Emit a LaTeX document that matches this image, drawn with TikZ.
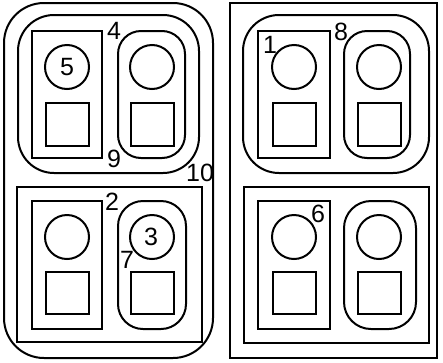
\documentclass[tikz,border=0pt]{standalone}
\usepackage{fontspec}
\setmainfont{Liberation Sans}
\begin{document}
\begin{tikzpicture}[x=1pt,y=-1pt,line width=2pt,
  lbl/.style={font=\fontsize{25}{25}\selectfont,inner sep=0pt}]
\useasboundingbox (0,0) rectangle (443,362);
% left half
\draw[rounded corners=40] (4,3) rectangle (213,358);
\draw[rounded corners=36] (18,15) rectangle (199,173);
\draw (32,31) rectangle (102,158);
\draw (67,67) circle (22);
\draw (46,103) rectangle (89,146);
\draw[rounded corners=23] (118,31) rectangle (185,158);
\draw (152,67) circle (22);
\draw (131,103) rectangle (174,146);
\draw (17,187) rectangle (202,342);
\draw (32,201) rectangle (102,329);
\draw (67,237) circle (22);
\draw (46,272) rectangle (89,314);
\draw[rounded corners=25] (118,201) rectangle (186,329);
\draw (152,237) circle (22);
\draw (131,272) rectangle (174,314);
% right half
\draw (230,3) rectangle (437,358);
\draw[rounded corners=36] (243,15) rectangle (429,173);
\draw (258,31) rectangle (330,158);
\draw (294,67) circle (22);
\draw (273,103) rectangle (316,146);
\draw[rounded corners=23] (344,31) rectangle (410,158);
\draw (379,67) circle (22);
\draw (358,103) rectangle (401,146);
\draw (244,187) rectangle (429,343);
\draw (258,201) rectangle (330,329);
\draw (294,237) circle (22);
\draw (273,272) rectangle (316,314);
\draw[rounded corners=27] (344,201) rectangle (416,329);
\draw (379,237) circle (22);
\draw (358,272) rectangle (401,314);
% labels
\node[lbl] (l4) at (114,31) {4};
\node[lbl] (l9) at (114,159) {9};
\node[lbl] (l10) at (200,173) {10};
\node[lbl] (l5) at (67,67) {5};
\node[lbl] (l2) at (112,202) {2};
\node[lbl] (l3) at (151,237) {3};
\node[lbl] (l7) at (127,260) {7};
\node[lbl] (l1) at (270,45) {1};
\node[lbl] (l8) at (341,32) {8};
\node[lbl] (l6) at (318,214) {6};
\end{tikzpicture}
\end{document}
